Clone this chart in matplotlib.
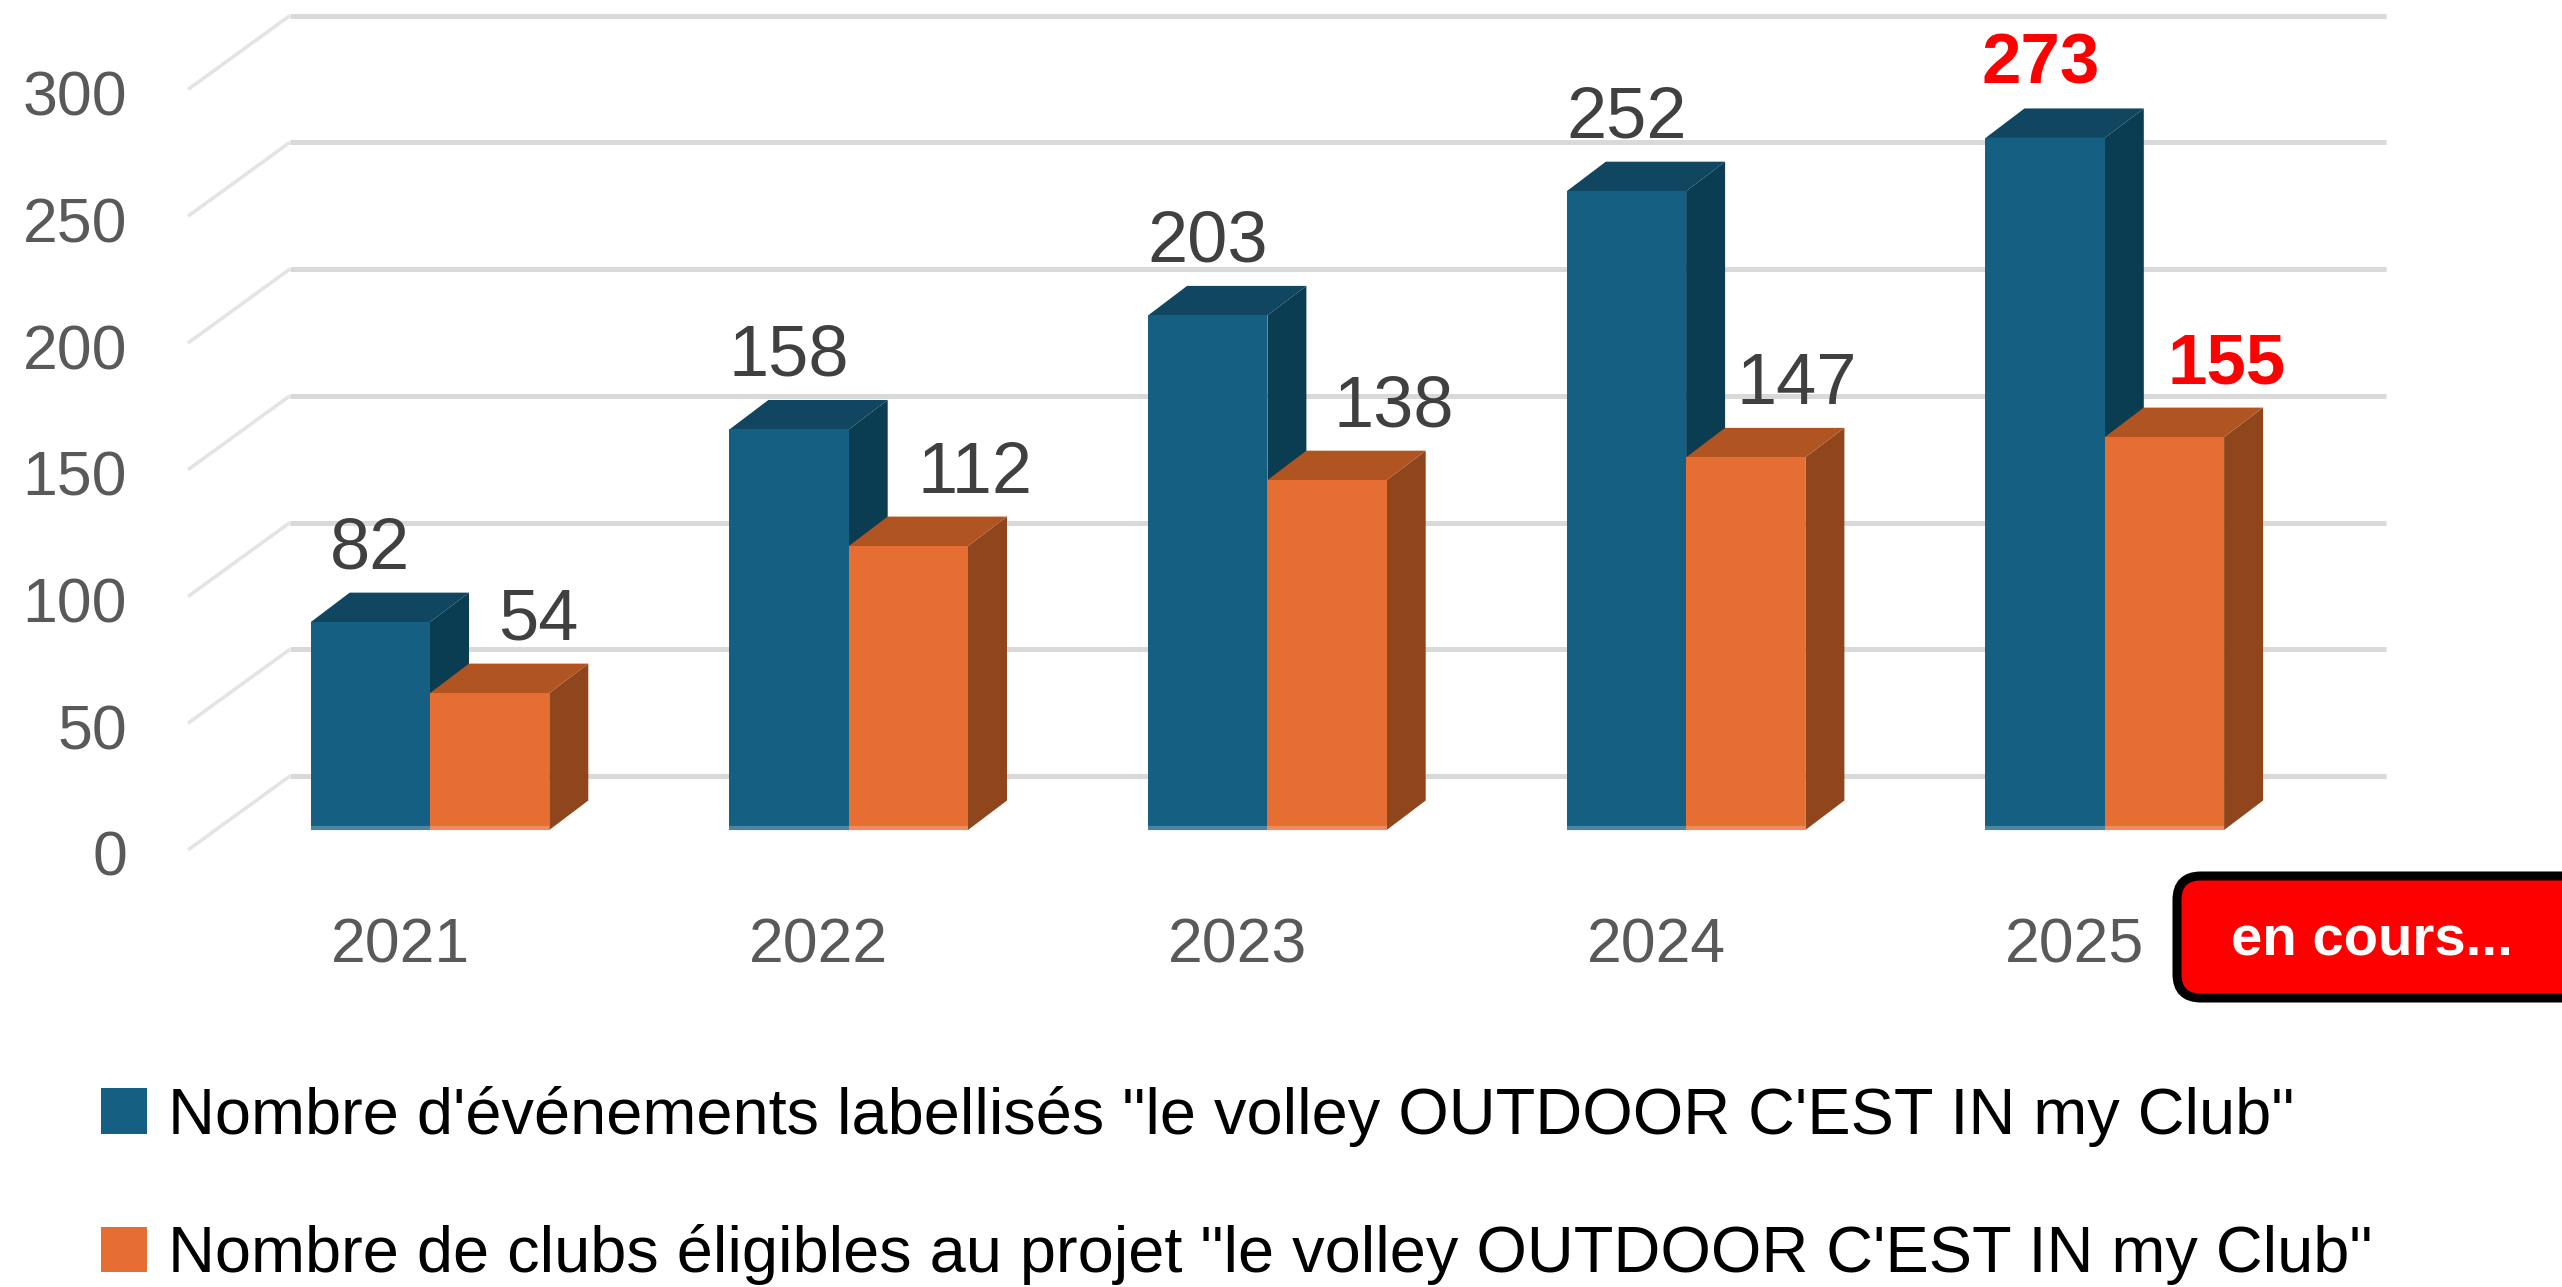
import matplotlib
matplotlib.use("Agg")
import matplotlib.pyplot as plt
from matplotlib.patches import Polygon, FancyBboxPatch, Patch
from matplotlib.transforms import Affine2D, IdentityTransform

# ---- data ----
years = ["2021", "2022", "2023", "2024", "2025"]
events = [82, 158, 203, 252, 273]
clubs = [54, 112, 138, 147, 155]
y_ticks = [0, 50, 100, 150, 200, 250, 300]
series_names = ["Nombre d'événements labellisés \"le volley OUTDOOR C'EST IN my Club\"",
                "Nombre de clubs éligibles au projet \"le volley OUTDOOR C'EST IN my Club\""]
badge_text = "en cours..."

# ---- layout (figure pixels) ----
W, H = 2562, 1287
DPI = 100
AX_L, AX_R, AX_T, AX_B = 188, 2386, 0, 851
BASE_Y = 830           # pixel of value 0 on the bars' front face
PX_PER_UNIT = 2.535
FIRST_X = 430          # pixel of the blue/orange junction of the first group
STEP_X = 418.7
BAR_W = 119.3 / STEP_X
DX = 39 / STEP_X
DY = 29.5 / PX_PER_UNIT
BACK_X = (290 - FIRST_X) / STEP_X
FRONT_X = (AX_L - FIRST_X) / STEP_X
GRID_RIGHT = (AX_R - FIRST_X) / STEP_X
BACK_OFF = 54 / PX_PER_UNIT     # back wall gridlines above the value
FRONT_OFF = -20 / PX_PER_UNIT

BLUE = dict(front="#156082", top="#104660", side="#0B3D52", edge="#4A86A0")
ORANGE = dict(front="#E66E33", top="#B05522", side="#8F461C", edge="#EE8C60")
TICK_C, LABEL_C = "#595959", "#404040"
FONT = "Liberation Sans"

fig = plt.figure(figsize=(W / DPI, H / DPI), dpi=DPI, facecolor="white")
ax = fig.add_axes([AX_L / W, 1 - AX_B / H, (AX_R - AX_L) / W, (AX_B - AX_T) / H])
ax.set_xlim((AX_L - FIRST_X) / STEP_X, (AX_R - FIRST_X) / STEP_X)
ax.set_ylim((BASE_Y - AX_B) / PX_PER_UNIT, (BASE_Y - AX_T) / PX_PER_UNIT)
for s in ax.spines.values():
    s.set_visible(False)
ax.patch.set_alpha(0)

# 3-D style gridlines
for v in y_ticks:
    ax.plot([BACK_X, GRID_RIGHT], [v + BACK_OFF] * 2, color="#D9D9D9", lw=3.6,
            solid_capstyle="butt", zorder=1, clip_on=False)
    ax.plot([FRONT_X, BACK_X], [v + FRONT_OFF, v + BACK_OFF], color="#E4E4E4", lw=2.6,
            solid_capstyle="butt", zorder=1, clip_on=False)


def bar3d(x0, v, c, z):
    x1 = x0 + BAR_W
    ax.add_patch(Polygon([(x1, 0), (x1 + DX, DY), (x1 + DX, v + DY), (x1, v)],
                         fc=c["side"], ec="none", zorder=z, clip_on=False))
    ax.add_patch(Polygon([(x0, v), (x0 + DX, v + DY), (x1 + DX, v + DY), (x1, v)],
                         fc=c["top"], ec="none", zorder=z, clip_on=False))
    ax.bar(x0, v, BAR_W, align="edge", color=c["front"], lw=0, zorder=z + 0.1)
    ax.plot([x0, x1], [0.6, 0.6], color=c["edge"], lw=3, solid_capstyle="butt",
            zorder=z + 0.2, clip_on=False)


for i, (e, c) in enumerate(zip(events, clubs)):
    bar3d(i - BAR_W, e, BLUE, 3 + i * 0.01)
    bar3d(i, c, ORANGE, 4 + i * 0.01)

# data labels
blue_nudge = [0, 0, 0, 0, -4]
orange_nudge = [49, 67, 67, 51, 62]
for i, (e, c) in enumerate(zip(events, clubs)):
    last = i == len(years) - 1
    kw = dict(color="#FF0000", fontweight="bold") if last else dict(color=LABEL_C)
    fs = 51 if last else 52
    ax.annotate(str(e), (i - BAR_W / 2, e), xytext=(blue_nudge[i], 72), textcoords="offset pixels",
                ha="center", va="center", fontsize=fs, family=FONT, zorder=6, annotation_clip=False, **kw)
    ax.annotate(str(c), (i + BAR_W / 2, c), xytext=(orange_nudge[i], 72), textcoords="offset pixels",
                ha="center", va="center", fontsize=fs, family=FONT, zorder=6, annotation_clip=False, **kw)

# axes ticks
ax.set_yticks(y_ticks)
ax.set_xticks(range(len(years)))
ax.set_xticklabels(years)
ax.tick_params(axis="both", length=0, labelsize=45, labelcolor=TICK_C)
ax.tick_params(axis="y", pad=44)
ax.tick_params(axis="x", pad=47)
for t in ax.get_yticklabels() + ax.get_xticklabels():
    t.set_fontfamily(FONT)
shift_y = Affine2D().translate(0, -23)
shift_x = Affine2D().translate(-30, 0)
for t in ax.get_yticklabels():
    t.set_transform(t.get_transform() + shift_y)
for t in ax.get_xticklabels():
    t.set_transform(t.get_transform() + shift_x)

# legend
leg = fig.legend(handles=[Patch(fc=BLUE["front"], ec="none"), Patch(fc=ORANGE["front"], ec="none")],
                 labels=series_names, loc="upper left",
                 bbox_to_anchor=(101 / W, 1 - 1086 / H), bbox_transform=fig.transFigure,
                 frameon=False, handlelength=0.71, handleheight=0.71, handletextpad=0.33,
                 labelspacing=1.19, borderpad=0, borderaxespad=0,
                 prop=dict(family=FONT, size=46.7))

# badge
fig.add_artist(FancyBboxPatch((2177, H - 998), 420, 122, boxstyle="round,pad=0,rounding_size=24",
                              fc="#FF0000", ec="black", lw=6.5, transform=IdentityTransform(), clip_on=False))
fig.text(2372 / W, 1 - 941 / H, badge_text, color="white", fontweight="bold", fontsize=40.5,
         family=FONT, ha="center", va="center")

fig.savefig("out.png", dpi=DPI, facecolor="white")
